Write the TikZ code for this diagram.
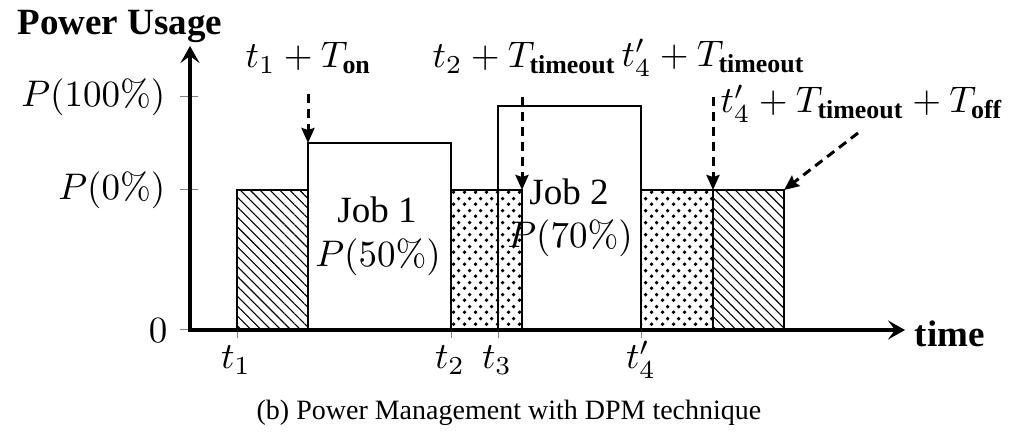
\documentclass[tikz,border=0pt]{standalone}
\usepackage{amsmath}
\usepackage[no-math]{fontspec}
\setmainfont{Liberation Serif}
\usetikzlibrary{arrows.meta,patterns,patterns.meta}

% staggered dot fill used for the idle (timeout) intervals
\pgfdeclarepatternformonly{idledots}{\pgfqpoint{0pt}{0pt}}{\pgfqpoint{11pt}{12pt}}{\pgfqpoint{11pt}{12pt}}{%
  \pgfpathcircle{\pgfqpoint{2.75pt}{3pt}}{2.1pt}%
  \pgfpathcircle{\pgfqpoint{8.25pt}{9pt}}{2.1pt}%
  \pgfusepath{fill}%
}

\tikzset{
  axisline/.style={line width=4pt, -{Stealth[length=17pt,width=19pt,inset=7pt]}},
  jobline/.style={line width=2.8pt, line join=miter},
  hatchbox/.style={draw, line width=1.3pt, pattern={Lines[angle=-45,distance=7pt,line width=1.1pt]}},
  dotbox/.style={draw, line width=1.3pt, pattern=idledots},
  tickmark/.style={draw=gray, line width=1pt},
  pointer/.style={line width=3pt, dash pattern=on 9pt off 6pt,
    -{Stealth[length=15pt,width=13pt,inset=2pt]}},
  lbl/.style={inner sep=0pt, font=\fontsize{10}{12}\selectfont, scale=3.7},
  caplbl/.style={inner sep=0pt, font=\fontsize{10}{12}\selectfont, scale=2.8},
}

\begin{document}
\begin{tikzpicture}[x=1pt,y=-1pt]
\useasboundingbox (0,0) rectangle (1018,435);

% interval corners
\coordinate (o)   at (190,330);
\coordinate (a1)  at (237,190);  \coordinate (b1) at (308,330);
\coordinate (j1)  at (308,143);  \coordinate (j1r) at (451,143);
\coordinate (d1)  at (451,190);  \coordinate (e1) at (522,330);
\coordinate (j2)  at (498,106);  \coordinate (j2r) at (641,106);
\coordinate (d2)  at (641,190);  \coordinate (e2) at (713,330);
\coordinate (h2)  at (713,190);  \coordinate (g2) at (784,330);
\coordinate (d1t) at (522,190);
\coordinate (h2e) at (784,190);

% filled power-state intervals
\path[hatchbox] (a1) rectangle (b1);
\path[dotbox]   (d1) rectangle (e1);
\path[dotbox]   (d2) rectangle (e2);
\path[hatchbox] (h2) rectangle (g2);

% job outlines
\draw[jobline] (308,330) -- (j1) -- (j1r) -- (451,330);
\draw[jobline] (498,330) -- (j2) -- (j2r) -- (641,330);

% ticks
\draw[tickmark] (180,97) -- (198,97);
\draw[tickmark] (180,190) -- (198,190);
\draw[tickmark] (180,330) -- (198,330);
\foreach \tx in {237,451,498,641}
  \draw[tickmark] (\tx,330) -- (\tx,338);

% axes
\coordinate (ytop) at (190,46);
\coordinate (xend) at (905,330);
\draw[axisline] (190,332) -- (ytop);
\draw[axisline] (188,330) -- (xend);

% axis labels
\node[lbl, anchor=base west] (ylab) at (17,35) {\textbf{Power Usage}};
\node[lbl, anchor=west] (xlab) at (914,334) {\textbf{time}};
\node[lbl, anchor=east] (p100) at (166,97) {$P(100\%)$};
\node[lbl, anchor=east] (p0) at (166,190) {$P(0\%)$};
\node[lbl, anchor=east] (zero) at (168,331) {$0$};

% time instants
\node[lbl, anchor=base] (t1) at (236,369) {$t_1$};
\node[lbl, anchor=base] (t2) at (450,369) {$t_2$};
\node[lbl, anchor=base] (t3) at (497,369) {$t_3$};
\node[lbl, anchor=base] (t4) at (641,369) {$t'_4$};

% job labels
\node[lbl, anchor=base] (job1) at (377,223) {Job 1};
\node[lbl, anchor=base] (job1p) at (378,267) {$P(50\%)$};
\node[lbl, anchor=base] (job2) at (569,205) {Job 2};
\node[lbl, anchor=base] (job2p) at (570,248) {$P(70\%)$};

% event labels
\node[lbl, anchor=base west] (ev1) at (245,68) {$t_1+T_{\textbf{on}}$};
\node[lbl, anchor=base west] (ev2) at (432,68) {$t_2+T_{\textbf{timeout}}$};
\node[lbl, anchor=base west] (ev3) at (621,67) {$t'_4+T_{\textbf{timeout}}$};
\node[lbl, anchor=base west] (ev4) at (720,113) {$t'_4+T_{\textbf{timeout}}+T_{\textbf{off}}$};

% event pointers
\coordinate (s1) at (308,94);
\coordinate (s2) at (522,97);
\coordinate (s3) at (713,97);
\coordinate (s4) at (858,133);
\draw[pointer] (s1) -- (j1);
\draw[pointer] (s2) -- (d1t);
\draw[pointer] (s3) -- (h2);
\draw[pointer] (s4) -- (h2e);

% caption
\node[caplbl, anchor=base] (cap) at (509,420) {(b) Power Management with DPM technique};
\end{tikzpicture}
\end{document}
